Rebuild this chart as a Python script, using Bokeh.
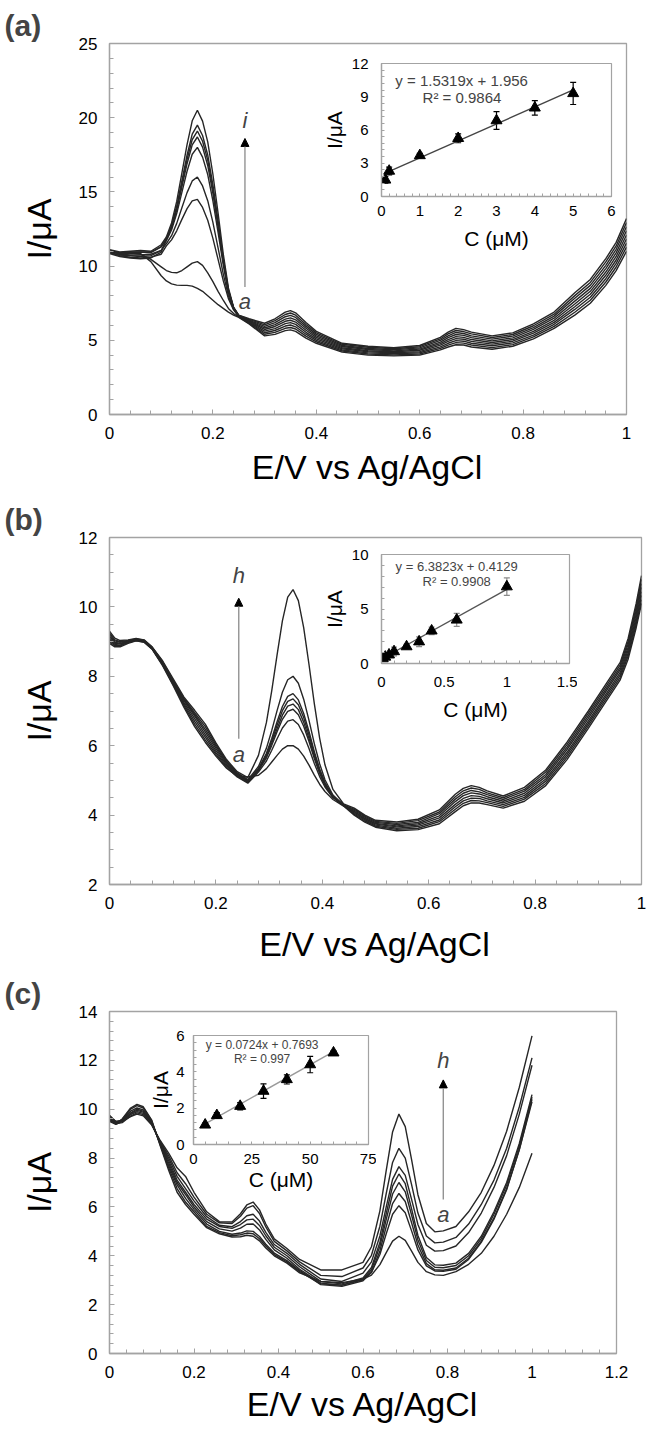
from bokeh.plotting import figure
from bokeh.models import (Whisker, TeeHead, Arrow, NormalHead, Label, Range1d,
                          FixedTicker, CustomJSTickFormatter, Column, ColumnDataSource)
from bokeh.embed import file_html
from bokeh.resources import INLINE

# ---------------- data: panel (a) ----------------
PA_XTICKS = [0, 0.2, 0.4, 0.6, 0.8, 1]
PA_YTICKS = [0, 5, 10, 15, 20, 25]
PA_X = [0, 0.02, 0.04, 0.06, 0.08, 0.10, 0.11, 0.12, 0.13, 0.14, 0.15, 0.16, 0.17, 0.18, 0.19,
        0.20, 0.21, 0.22, 0.23, 0.24, 0.25, 0.27, 0.30, 0.32, 0.34, 0.35, 0.36, 0.38, 0.40, 0.45,
        0.50, 0.55, 0.60, 0.64, 0.655, 0.67, 0.685, 0.70, 0.74, 0.78, 0.82, 0.86, 0.90, 0.93, 0.96,
        0.98, 1.00]
PA_a = [11.05, 10.8, 10.85, 10.85, 10.3, 9.35, 9.0, 8.8, 8.72, 8.7, 8.7, 8.65, 8.5, 8.3, 8.0,
        7.7, 7.4, 7.15, 6.9, 6.7, 6.55, 6.1, 5.3, 5.4, 5.65, 5.7, 5.6, 5.15, 4.8, 4.2,
        4.0, 3.95, 4.0, 4.35, 4.55, 4.7, 4.68, 4.55, 4.4, 4.6, 5.1, 5.8, 6.7, 7.5, 8.7, 9.7, 11.0]
PA_b = [11.0, 10.85, 10.9, 10.8, 10.45, 9.95, 9.7, 9.58, 9.55, 9.7, 9.95, 10.2, 10.3, 10.05, 9.55,
        8.95, 8.3, 7.7, 7.15, 6.8, 6.57, 6.14, 5.41, 5.53, 5.81, 5.86, 5.76, 5.28, 4.9, 4.28,
        4.08, 4.02, 4.08, 4.46, 4.68, 4.84, 4.81, 4.68, 4.51, 4.71, 5.23, 5.94, 6.89, 7.7, 8.93, 9.94, 11.28]
PA_c = [10.95, 10.7, 10.6, 10.55, 10.6, 10.8, 11.36, 11.77, 12.38, 13.15, 13.87, 14.39, 14.5, 13.95, 13.09,
        11.87, 10.45, 9.03, 7.81, 7.05, 6.59, 6.19, 5.51, 5.66, 5.96, 6.03, 5.91, 5.41, 5.0, 4.35,
        4.15, 4.09, 4.16, 4.56, 4.8, 4.98, 4.94, 4.8, 4.63, 4.83, 5.35, 6.08, 7.08, 7.9, 9.15, 10.18, 11.55]
PA_d = [11.1, 10.8, 10.75, 10.75, 10.8, 11.06, 11.51, 12.05, 12.88, 13.93, 14.95, 15.74, 16.0, 15.4, 14.41,
        12.95, 11.23, 9.48, 7.99, 7.1, 6.61, 6.23, 5.62, 5.79, 6.12, 6.19, 6.07, 5.54, 5.1, 4.43,
        4.23, 4.16, 4.24, 4.67, 4.93, 5.11, 5.07, 4.93, 4.74, 4.94, 5.48, 6.21, 7.26, 8.1, 9.38, 10.41, 11.83]
PA_e = [10.9, 10.75, 10.7, 10.65, 10.7, 11.04, 11.71, 12.43, 13.54, 14.97, 16.39, 17.54, 18.0, 17.34, 16.17,
        14.39, 12.27, 10.08, 8.23, 7.16, 6.63, 6.28, 5.73, 5.93, 6.28, 6.35, 6.23, 5.68, 5.2, 4.5,
        4.3, 4.23, 4.33, 4.78, 5.05, 5.25, 5.2, 5.05, 4.85, 5.05, 5.6, 6.35, 7.45, 8.3, 9.6, 10.65, 12.1]
PA_f = [11.0, 10.9, 10.95, 10.95, 10.95, 11.32, 11.78, 12.57, 13.77, 15.34, 16.9, 18.17, 18.7, 18.02, 16.78,
        14.9, 12.64, 10.29, 8.32, 7.18, 6.64, 6.32, 5.83, 6.06, 6.43, 6.51, 6.38, 5.81, 5.3, 4.58,
        4.38, 4.29, 4.41, 4.88, 5.18, 5.39, 5.33, 5.18, 4.96, 5.16, 5.73, 6.49, 7.64, 8.5, 9.83, 10.89, 12.38]
PA_g = [10.85, 10.65, 10.55, 10.5, 10.55, 10.94, 11.82, 12.64, 13.9, 15.54, 17.18, 18.53, 19.1, 18.41, 17.14,
        15.18, 12.84, 10.41, 8.36, 7.19, 6.66, 6.36, 5.94, 6.19, 6.59, 6.68, 6.54, 5.94, 5.4, 4.65,
        4.45, 4.36, 4.49, 4.99, 5.3, 5.53, 5.46, 5.3, 5.08, 5.28, 5.85, 6.63, 7.83, 8.7, 10.05, 11.13, 12.65]
PA_h = [11.05, 10.85, 10.9, 10.95, 10.9, 11.3, 11.86, 12.72, 14.03, 15.75, 17.47, 18.89, 19.5, 18.8, 17.49,
        15.47, 13.05, 10.53, 8.41, 7.2, 6.68, 6.41, 6.04, 6.32, 6.74, 6.84, 6.69, 6.07, 5.5, 4.73,
        4.53, 4.43, 4.57, 5.09, 5.43, 5.66, 5.59, 5.43, 5.19, 5.39, 5.98, 6.76, 8.01, 8.9, 10.28, 11.36, 12.93]
PA_i = [11.1, 10.95, 11.0, 11.05, 11.0, 11.44, 11.96, 12.91, 14.36, 16.27, 18.19, 19.79, 20.5, 19.77, 18.37,
        16.19, 13.57, 10.83, 8.53, 7.23, 6.7, 6.45, 6.15, 6.45, 6.9, 7.0, 6.85, 6.2, 5.6, 4.8,
        4.6, 4.5, 4.65, 5.2, 5.55, 5.8, 5.72, 5.55, 5.3, 5.5, 6.1, 6.9, 8.2, 9.1, 10.5, 11.6, 13.2]

# ---------------- data: panel (b) ----------------
PB_XTICKS = [0, 0.2, 0.4, 0.6, 0.8, 1]
PB_YTICKS = [2, 4, 6, 8, 10, 12]
PB_X = [0, 0.01, 0.02, 0.035, 0.05, 0.065, 0.08, 0.1, 0.12, 0.14, 0.16, 0.18, 0.2, 0.22, 0.24, 0.26,
        0.28, 0.295, 0.305, 0.315, 0.325, 0.335, 0.345, 0.355, 0.365, 0.375, 0.385, 0.395, 0.405, 0.42, 0.44,
        0.46, 0.48, 0.5, 0.54, 0.58, 0.62, 0.65, 0.665, 0.68, 0.695, 0.71, 0.74, 0.78, 0.82, 0.86, 0.9,
        0.93, 0.96, 0.975, 0.99, 1.0]
PB_a = [8.95, 8.85, 8.85, 8.95, 9.02, 8.98, 8.78, 8.3, 7.72, 7.1, 6.55, 6.1, 5.7, 5.35, 5.12, 5.1,
        5.15, 5.34, 5.53, 5.72, 5.9, 6.0, 6.0, 5.9, 5.7, 5.44, 5.15, 4.89, 4.68, 4.45, 4.26,
        4.0, 3.8, 3.65, 3.55, 3.58, 3.75, 4.1, 4.27, 4.35, 4.35, 4.3, 4.2, 4.4, 4.85, 5.6, 6.5,
        7.2, 7.9, 8.5, 9.4, 10.1]
PB_b = [9.0, 8.88, 8.88, 8.97, 9.03, 8.99, 8.79, 8.32, 7.75, 7.15, 6.62, 6.17, 5.75, 5.38, 5.1, 4.92,
        5.24, 5.56, 5.87, 6.2, 6.51, 6.71, 6.75, 6.61, 6.31, 5.92, 5.49, 5.11, 4.81, 4.5, 4.27,
        4.03, 3.83, 3.68, 3.59, 3.62, 3.81, 4.17, 4.34, 4.42, 4.41, 4.36, 4.25, 4.46, 4.91, 5.67, 6.57,
        7.27, 7.97, 8.59, 9.5, 10.21]
PB_c = [9.05, 8.92, 8.9, 8.99, 9.04, 9.0, 8.8, 8.34, 7.78, 7.2, 6.7, 6.25, 5.8, 5.42, 5.12, 4.94,
        5.28, 5.65, 6.01, 6.4, 6.76, 6.99, 7.05, 6.89, 6.56, 6.12, 5.63, 5.2, 4.86, 4.52, 4.28,
        4.06, 3.86, 3.71, 3.62, 3.67, 3.86, 4.24, 4.41, 4.49, 4.48, 4.41, 4.3, 4.51, 4.98, 5.74, 6.64,
        7.34, 8.04, 8.67, 9.6, 10.33]
PB_d = [9.1, 8.95, 8.93, 9.0, 9.05, 9.01, 8.81, 8.36, 7.8, 7.25, 6.78, 6.32, 5.86, 5.46, 5.15, 4.96,
        5.3, 5.69, 6.08, 6.49, 6.88, 7.14, 7.2, 7.04, 6.68, 6.21, 5.7, 5.24, 4.88, 4.53, 4.28,
        4.09, 3.89, 3.74, 3.66, 3.71, 3.92, 4.31, 4.48, 4.56, 4.54, 4.47, 4.35, 4.57, 5.04, 5.81, 6.71,
        7.41, 8.11, 8.76, 9.7, 10.44]
PB_e = [9.15, 8.98, 8.95, 9.01, 9.06, 9.02, 8.82, 8.38, 7.83, 7.3, 6.85, 6.4, 5.92, 5.5, 5.18, 4.98,
        5.32, 5.74, 6.15, 6.59, 7.01, 7.28, 7.35, 7.18, 6.81, 6.31, 5.77, 5.29, 4.91, 4.54, 4.28,
        4.11, 3.91, 3.76, 3.69, 3.75, 3.98, 4.39, 4.56, 4.64, 4.61, 4.53, 4.4, 4.63, 5.11, 5.89, 6.79,
        7.49, 8.19, 8.84, 9.8, 10.56]
PB_f = [9.2, 9.02, 8.98, 9.02, 9.07, 9.03, 8.83, 8.4, 7.86, 7.33, 6.9, 6.47, 5.98, 5.53, 5.2, 5.0,
        5.34, 5.78, 6.21, 6.69, 7.13, 7.42, 7.5, 7.32, 6.93, 6.41, 5.83, 5.33, 4.94, 4.55, 4.28,
        4.14, 3.94, 3.79, 3.73, 3.79, 4.04, 4.46, 4.63, 4.71, 4.67, 4.59, 4.45, 4.69, 5.17, 5.96, 6.86,
        7.56, 8.26, 8.93, 9.9, 10.67]
PB_g = [9.25, 9.05, 9.0, 9.03, 9.08, 9.04, 8.84, 8.42, 7.88, 7.36, 6.95, 6.55, 6.03, 5.56, 5.22, 5.02,
        5.4, 5.93, 6.44, 7.01, 7.54, 7.9, 8.0, 7.8, 7.34, 6.73, 6.06, 5.48, 5.02, 4.58, 4.29,
        4.17, 3.97, 3.82, 3.76, 3.84, 4.09, 4.53, 4.7, 4.78, 4.74, 4.64, 4.5, 4.74, 5.24, 6.03, 6.93,
        7.63, 8.33, 9.01, 10.0, 10.79]
PB_h = [9.3, 9.1, 9.03, 9.05, 9.09, 9.05, 8.85, 8.44, 7.92, 7.4, 7.02, 6.62, 6.08, 5.6, 5.25, 5.08,
        5.72, 6.67, 7.59, 8.62, 9.6, 10.28, 10.5, 10.18, 9.4, 8.34, 7.21, 6.22, 5.45, 4.74, 4.32,
        4.2, 4.0, 3.85, 3.8, 3.88, 4.15, 4.6, 4.77, 4.85, 4.8, 4.7, 4.55, 4.8, 5.3, 6.1, 7.0,
        7.7, 8.4, 9.1, 10.1, 10.9]

# ---------------- data: panel (c) ----------------
PC_XTICKS = [0, 0.2, 0.4, 0.6, 0.8, 1, 1.2]
PC_YTICKS = [0, 2, 4, 6, 8, 10, 12, 14]
PC_X = [0, 0.015, 0.03, 0.05, 0.065, 0.08, 0.1, 0.12, 0.14, 0.16, 0.18, 0.2, 0.23, 0.26, 0.29,
        0.31, 0.325, 0.34, 0.355, 0.37, 0.39, 0.42, 0.45, 0.5, 0.55, 0.6, 0.62, 0.64, 0.655, 0.67,
        0.685, 0.7, 0.715, 0.73, 0.75, 0.77, 0.79, 0.82, 0.85, 0.88, 0.91, 0.94, 0.97, 1.0]
PC_a = [9.55, 9.4, 9.6, 10.05, 10.2, 10.1, 9.55, 8.5, 7.5, 6.6, 6.1, 5.7, 5.15, 4.9, 4.77,
        4.78, 4.84, 4.8, 4.61, 4.32, 4.0, 3.7, 3.3, 2.95, 2.9, 3.04, 3.21, 3.64, 4.13, 4.6,
        4.8, 4.63, 4.19, 3.73, 3.35, 3.22, 3.2, 3.35, 3.65, 4.1, 4.8, 5.7, 6.8, 8.2]
PC_b = [9.6, 9.42, 9.58, 10.0, 10.15, 10.05, 9.52, 8.55, 7.6, 6.75, 6.2, 5.8, 5.2, 4.95, 4.82,
        4.86, 4.93, 4.9, 4.7, 4.4, 4.05, 3.75, 3.35, 2.85, 2.8, 3.02, 3.32, 4.05, 4.9, 5.7,
        6.05, 5.76, 5.02, 4.24, 3.59, 3.38, 3.36, 3.45, 3.85, 4.55, 5.5, 6.7, 8.35, 10.4]
PC_c = [9.65, 9.45, 9.55, 9.92, 10.05, 9.97, 9.48, 8.58, 7.7, 6.9, 6.35, 5.9, 5.3, 5.0, 4.88,
        4.93, 5.02, 5.0, 4.79, 4.47, 4.11, 3.8, 3.4, 2.82, 2.75, 2.98, 3.33, 4.2, 5.2, 6.14,
        6.55, 6.22, 5.35, 4.44, 3.68, 3.43, 3.41, 3.5, 3.9, 4.6, 5.55, 6.75, 8.35, 10.3]
PC_d = [9.5, 9.38, 9.5, 9.85, 10.0, 9.92, 9.45, 8.6, 7.8, 7.0, 6.5, 6.0, 5.4, 5.1, 5.01,
        5.13, 5.29, 5.3, 5.06, 4.67, 4.24, 3.9, 3.45, 2.88, 2.8, 3.04, 3.43, 4.39, 5.49, 6.53,
        7.0, 6.62, 5.67, 4.65, 3.81, 3.53, 3.51, 3.6, 4.0, 4.7, 5.7, 6.9, 8.5, 10.5]
PC_e = [9.7, 9.5, 9.55, 9.82, 9.95, 9.88, 9.42, 8.62, 7.9, 7.1, 6.6, 6.1, 5.5, 5.2, 5.12,
        5.28, 5.47, 5.5, 5.24, 4.82, 4.35, 4.0, 3.55, 2.95, 2.85, 3.09, 3.52, 4.55, 5.73, 6.85,
        7.35, 6.95, 5.92, 4.83, 3.93, 3.63, 3.61, 3.7, 4.1, 4.8, 5.8, 7.0, 8.6, 10.6]
PC_f = [9.6, 9.45, 9.5, 9.78, 9.9, 9.83, 9.4, 8.65, 8.0, 7.25, 6.75, 6.25, 5.6, 5.25, 5.19,
        5.4, 5.64, 5.7, 5.42, 4.96, 4.46, 4.1, 3.65, 3.05, 2.95, 3.29, 3.75, 4.81, 6.0, 7.13,
        7.65, 7.29, 6.31, 5.28, 4.43, 4.19, 4.21, 4.4, 4.95, 5.75, 6.8, 8.1, 9.8, 11.8]
PC_g = [9.55, 9.4, 9.45, 9.72, 9.85, 9.78, 9.38, 8.68, 8.1, 7.4, 6.95, 6.4, 5.7, 5.35, 5.32,
        5.62, 5.95, 6.05, 5.73, 5.18, 4.59, 4.2, 3.75, 3.2, 3.15, 3.5, 4.02, 5.21, 6.55, 7.82,
        8.4, 8.0, 6.91, 5.75, 4.81, 4.53, 4.56, 4.75, 5.3, 6.1, 7.1, 8.4, 10.1, 12.1]
PC_h = [9.75, 9.5, 9.5, 9.7, 9.8, 9.73, 9.35, 8.72, 8.2, 7.6, 7.25, 6.6, 5.8, 5.4, 5.38,
        5.72, 6.08, 6.2, 5.88, 5.3, 4.69, 4.3, 3.85, 3.42, 3.42, 3.73, 4.37, 5.84, 7.5, 9.07,
        9.8, 9.29, 7.94, 6.5, 5.32, 4.98, 5.02, 5.2, 5.8, 6.6, 7.7, 9.1, 10.9, 13.0]

# ---------------- data: insets (calibration plots) ----------------
IA_XTICKS = [0, 1, 2, 3, 4, 5, 6]
IA_YTICKS = [0, 3, 6, 9, 12]
IA_C = [0.1, 0.2, 1, 2, 3, 4, 5]
IA_I = [1.5, 2.3, 3.7, 5.25, 6.85, 8.0, 9.3]
IA_ERR = [0.3, 0.35, 0.2, 0.4, 0.8, 0.65, 1.0]
IA_SLOPE, IA_INTERCEPT, IA_FIT_RANGE = 1.5319, 1.956, [0.1, 5]
IA_EQ, IA_R2 = "y = 1.5319x + 1.956", "R² = 0.9864"

IB_XTICKS = [0, 0.5, 1, 1.5]
IB_YTICKS = [0, 5, 10]
IB_C = [0.01, 0.03, 0.06, 0.1, 0.2, 0.3, 0.4, 0.6, 1.0]
IB_I = [0.45, 0.6, 0.8, 1.1, 1.55, 2.0, 3.0, 4.0, 7.05]
IB_ERR = [0.1, 0.1, 0.15, 0.4, 0.2, 0.45, 0.35, 0.6, 0.8]
IB_SLOPE, IB_INTERCEPT, IB_FIT_RANGE = 6.3823, 0.4129, [0, 1]
IB_EQ, IB_R2 = "y = 6.3823x + 0.4129", "R² = 0.9908"

IC_XTICKS = [0, 25, 50, 75]
IC_YTICKS = [0, 2, 4, 6]
IC_C = [5, 10, 20, 30, 40, 50, 60]
IC_I = [1.08, 1.6, 2.11, 2.94, 3.58, 4.4, 5.05]
IC_ERR = [0.1, 0.15, 0.2, 0.4, 0.25, 0.45, 0.1]
IC_SLOPE, IC_INTERCEPT, IC_FIT_RANGE = 0.0724, 0.7693, [5, 60]
IC_EQ, IC_R2 = "y = 0.0724x + 0.7693", "R² = 0.997"

# ---------------- styling ----------------
FONT = "Liberation Sans"
GRAY = "#a3a3a3"
LINE = "#262626"
FMT = CustomJSTickFormatter(code="return String(+tick.toFixed(4));")


def minor_of(ticks, n):
    out = []
    for a, b in zip(ticks[:-1], ticks[1:]):
        for k in range(1, n):
            out.append(a + (b - a) * k / n)
    return out


def no_align(p):
    if "frame_align" in p.properties():
        p.frame_align = False


def style_axes(p, tick_size, lab_size, tick_in, minor_in):
    for ax in (p.xaxis[0], p.yaxis[0]):
        ax.formatter = FMT
        ax.axis_line_color = GRAY
        ax.axis_line_width = 1.3
        ax.major_tick_line_color = GRAY
        ax.minor_tick_line_color = GRAY
        ax.major_tick_in = tick_in
        ax.major_tick_out = 0
        ax.minor_tick_in = minor_in
        ax.minor_tick_out = 0
        ax.major_label_text_font = FONT
        ax.major_label_text_font_size = tick_size
        ax.major_label_text_color = "black"
        ax.axis_label_text_font = FONT
        ax.axis_label_text_font_size = lab_size
        ax.axis_label_text_font_style = "normal"
        ax.axis_label_text_color = "black"


def main_fig(height, top, bottom, right, xticks, yticks, yminor, xlab_standoff, letter):
    p = figure(width=646, height=height, x_range=Range1d(xticks[0], xticks[-1]),
               y_range=Range1d(yticks[0], yticks[-1]),
               output_backend="svg", toolbar_location=None,
               min_border_left=109, min_border_right=right, min_border_top=top,
               min_border_bottom=bottom,
               x_axis_label="E/V vs Ag/AgCl", y_axis_label="I/μA")
    no_align(p)
    p.xgrid.visible = False
    p.ygrid.visible = False
    p.outline_line_color = GRAY
    p.outline_line_width = 1.3
    p.xaxis.ticker = FixedTicker(ticks=xticks, minor_ticks=minor_of(xticks, 5))
    p.yaxis.ticker = FixedTicker(ticks=yticks, minor_ticks=minor_of(yticks, yminor))
    style_axes(p, "17px", "34px", 5, 4)
    p.xaxis.major_label_standoff = 12
    p.yaxis.major_label_standoff = 12
    p.xaxis.axis_label_standoff = xlab_standoff
    p.yaxis.axis_label_standoff = 18
    p.title.text = letter
    p.title.align = "left"
    p.title.offset = -105
    p.title.text_font = FONT
    p.title.text_font_size = "30px"
    p.title.text_font_style = "bold"
    p.title.standoff = 4
    return p


def add_curves(p, xs, curves):
    for ys in curves:
        assert len(ys) == len(xs)
        p.line(xs, ys, line_color=LINE, line_width=1.4)


def add_arrow(p, x, y0, y1, top_txt, bot_txt, top_y, bot_y):
    p.add_layout(Arrow(end=NormalHead(size=8, fill_color="black", line_color="black"),
                       x_start=x, y_start=y0, x_end=x, y_end=y1,
                       line_color="#8a8a8a", line_width=1.3))
    for t, yy in ((top_txt, top_y), (bot_txt, bot_y)):
        p.add_layout(Label(x=x, y=yy, text=t, text_font=FONT, text_font_style="italic",
                           text_font_size="22px", text_align="center", text_baseline="middle"))


def inset_fig(fl, ft, fw, fh, bl, bb, xticks, yticks, xs, ys, errs, fit_rng, slope, icpt,
              eq, r2, eq_pos, r2_pos, eq_size, err_color, fit_color, xstand, xlabstand, ystand, ylabstand):
    q = figure(width=bl + fw + 8, height=8 + fh + bb, x_range=Range1d(xticks[0], xticks[-1]),
               y_range=Range1d(yticks[0], yticks[-1]), output_backend="svg", toolbar_location=None,
               min_border_left=bl, min_border_right=8, min_border_top=8, min_border_bottom=bb,
               x_axis_label="C (μM)", y_axis_label="I/μA")
    no_align(q)
    q.styles = {"position": "absolute", "left": f"{fl - bl}px", "top": f"{ft - 8}px"}
    q.background_fill_alpha = 0
    q.border_fill_alpha = 0
    q.xgrid.visible = False
    q.ygrid.visible = False
    q.outline_line_color = GRAY
    q.outline_line_width = 1.2
    q.xaxis.ticker = FixedTicker(ticks=xticks, minor_ticks=minor_of(xticks, 5))
    q.yaxis.ticker = FixedTicker(ticks=yticks, minor_ticks=minor_of(yticks, 5))
    style_axes(q, "15px", "21px", 3, 3)
    q.xaxis.major_label_standoff = xstand
    q.xaxis.axis_label_standoff = xlabstand
    q.yaxis.major_label_standoff = ystand
    q.yaxis.axis_label_standoff = ylabstand
    fx = list(fit_rng)
    fy = [slope * v + icpt for v in fx]
    q.line(fx, fy, line_color=fit_color, line_width=1.4)
    src = ColumnDataSource(dict(x=xs, y=ys,
                                lo=[a - b for a, b in zip(ys, errs)],
                                hi=[a + b for a, b in zip(ys, errs)]))
    q.add_layout(Whisker(source=src, base="x", lower="lo", upper="hi", line_color=err_color,
                         line_width=1.2,
                         lower_head=TeeHead(size=6, line_color=err_color, line_width=1.2),
                         upper_head=TeeHead(size=6, line_color=err_color, line_width=1.2)))
    q.scatter("x", "y", source=src, marker="triangle", size=11, fill_color="black",
              line_color="black")
    q.add_layout(Label(x=eq_pos[0], y=eq_pos[1], text=eq, text_font=FONT, text_font_size=eq_size,
                       text_align="center", text_baseline="middle"))
    q.add_layout(Label(x=r2_pos[0], y=r2_pos[1], text=r2, text_font=FONT, text_font_size=eq_size,
                       text_align="center", text_baseline="middle"))
    return q


# ---------------- panel (a) ----------------
pa = main_fig(492, 43, 78, 20, PA_XTICKS, PA_YTICKS, 5, 6, "(a)")
add_curves(pa, PA_X, [PA_a, PA_b, PA_c, PA_d, PA_e, PA_f, PA_g, PA_h, PA_i])
add_arrow(pa, 0.262, 8.6, 18.6, "i", "a", 19.8, 7.6)

# ---------------- panel (b) ----------------
pb = main_fig(477, 45, 85, 5, PB_XTICKS, PB_YTICKS, 4, 13, "(b)")
add_curves(pb, PB_X, [PB_a, PB_b, PB_c, PB_d, PB_e, PB_f, PB_g, PB_h])
add_arrow(pb, 0.243, 6.2, 10.25, "h", "a", 10.9, 5.75)

# ---------------- panel (c) ----------------
pc = main_fig(461, 42, 77, 30, PC_XTICKS, PC_YTICKS, 5, 4, "(c)")
add_curves(pc, PC_X, [PC_a, PC_b, PC_c, PC_d, PC_e, PC_f, PC_g, PC_h])
add_arrow(pc, 0.79, 6.3, 11.2, "h", "a", 12.0, 5.7)

# ---------------- insets ----------------
ia = inset_fig(381, 63, 230, 133, 75, 62, IA_XTICKS, IA_YTICKS, IA_C, IA_I, IA_ERR, IA_FIT_RANGE,
               IA_SLOPE, IA_INTERCEPT, IA_EQ, IA_R2, (2.09, 10.47), (2.1, 8.93), "15px",
               "black", "#444444", 9, 8, 13, 3)
ib = inset_fig(381, 554, 188, 109, 75, 62, IB_XTICKS, IB_YTICKS, IB_C, IB_I, IB_ERR, IB_FIT_RANGE,
               IB_SLOPE, IB_INTERCEPT, IB_EQ, IB_R2, (0.6, 8.9), (0.6, 7.52), "13px",
               "#8a8a8a", "#555555", 13, 8, 13, 3)
ic = inset_fig(193, 1035, 175, 109, 60, 62, IC_XTICKS, IC_YTICKS, IC_C, IC_I, IC_ERR, IC_FIT_RANGE,
               IC_SLOPE, IC_INTERCEPT, IC_EQ, IC_R2, (29.4, 5.45), (29.4, 4.73), "12px",
               "black", "#9a9a9a", 9, 1, 9, 1)

root = Column(children=[pa, pb, pc, ia, ib, ic], width=646, height=1430,
              styles={"position": "relative"})

with open("out.html", "w") as f:
    f.write(file_html(root, INLINE))
